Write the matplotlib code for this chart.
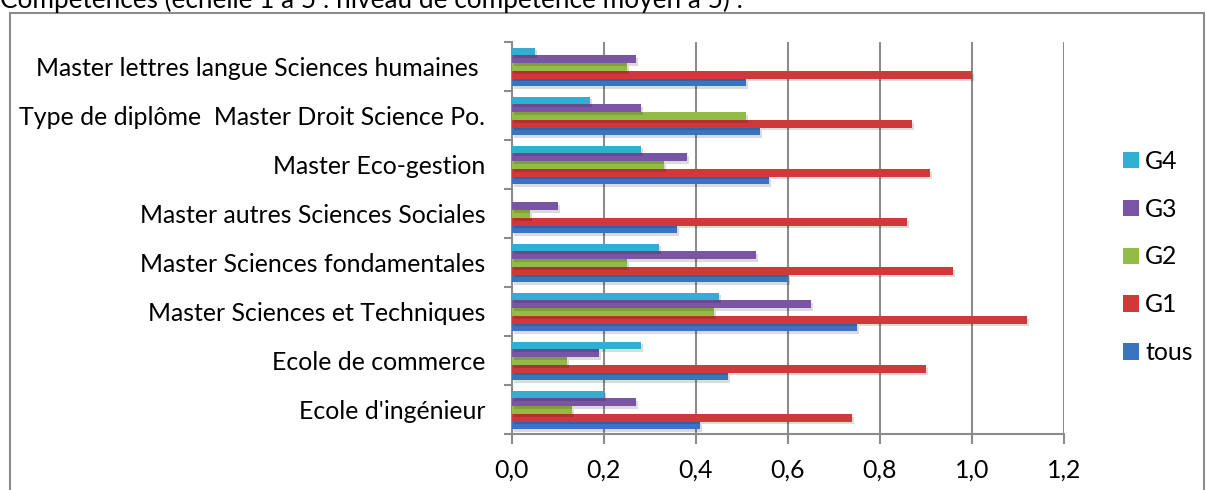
import matplotlib.pyplot as plt
import matplotlib.patheffects as pe
from matplotlib.patches import Rectangle, Patch
import numpy as np

plt.rcParams['font.family'] = ['Lato', 'DejaVu Sans']

# Catégories, de bas en haut
categories = [
    "Ecole d'ingénieur",
    "Ecole de commerce",
    "Master Sciences et Techniques",
    "Master Sciences fondamentales",
    "Master autres Sciences Sociales",
    "Master Eco-gestion",
    "Type de diplôme  Master Droit Science Po.",
    "Master lettres langue Sciences humaines ",
]
tous = [0.41, 0.47, 0.75, 0.60, 0.36, 0.56, 0.54, 0.51]
g1 = [0.74, 0.90, 1.12, 0.96, 0.86, 0.91, 0.87, 1.00]
g2 = [0.13, 0.12, 0.44, 0.25, 0.04, 0.33, 0.51, 0.25]
g3 = [0.27, 0.19, 0.65, 0.53, 0.10, 0.38, 0.28, 0.27]
g4 = [0.20, 0.28, 0.45, 0.32, 0.00, 0.28, 0.17, 0.05]
series_names = ["tous", "G1", "G2", "G3", "G4"]
series_colors = ["#3A73C0", "#D0393A", "#93BC47", "#7A55A5", "#31AFD3"]
x_ticks = [0.0, 0.2, 0.4, 0.6, 0.8, 1.0, 1.2]

W, H = 1206, 490
fs = 17.9
fig = plt.figure(figsize=(W / 100, H / 100), dpi=100)

# cadre du graphique (coupé en bas)
fig.patches.append(Rectangle((10 / W, -0.05), 1194 / W, 1.05 - 13 / H,
                             transform=fig.transFigure, fill=False,
                             edgecolor='#8c8c8c', linewidth=1.5))
fig.text(0, 1 - 8 / H, "Compétences (échelle 1 à 5 : niveau de compétence moyen à 5) :",
         fontsize=18.8, va='baseline', ha='left')

ax = fig.add_axes([511.7 / W, 1 - 434 / H, 552 / W, 392 / H])

y = np.arange(len(categories))
bh = 0.159
shadow = [pe.SimplePatchShadow(offset=(1.5, -2), shadow_rgbFace='#000000', alpha=0.14), pe.Normal()]
for k, (vals, col) in enumerate(zip([tous, g1, g2, g3, g4], series_colors)):
    bars = ax.barh(y + (k - 2) * bh - 0.01, vals, height=bh, color=col, zorder=3)
    for b in bars:
        b.set_path_effects(shadow)

ax.set_xlim(0, 1.2)
ax.set_ylim(-0.5, len(categories) - 0.5)
ax.set_xticks(x_ticks)
ax.set_xticklabels([f"{v:.1f}".replace('.', ',') for v in x_ticks], fontsize=fs)
ax.set_yticks(y)
ax.set_yticklabels(categories, fontsize=fs)
ax.set_yticks(np.arange(-0.5, len(categories)), minor=True)
ax.tick_params(axis='y', which='major', length=0, pad=19)
ax.tick_params(axis='y', which='minor', length=6, width=1.5, color='#8c8c8c')
ax.tick_params(axis='x', length=7, width=1.5, color='#8c8c8c', pad=11)
ax.grid(axis='x', color='#8c8c8c', linewidth=1.5, zorder=0)
for s in ['top', 'right']:
    ax.spines[s].set_visible(False)
for s in ['left', 'bottom']:
    ax.spines[s].set_color('#8c8c8c')
    ax.spines[s].set_linewidth(1.5)

handles = [Patch(facecolor=c, label=n) for n, c in zip(series_names, series_colors)]
fig.legend(handles=handles[::-1], loc='center left',
           bbox_to_anchor=(1123 / W, 1 - 257 / H), frameon=False, fontsize=fs,
           handlelength=0.64, handleheight=0.64, handletextpad=0.25,
           labelspacing=1.0, borderpad=0, borderaxespad=0)

fig.savefig("out.png", dpi=100)
